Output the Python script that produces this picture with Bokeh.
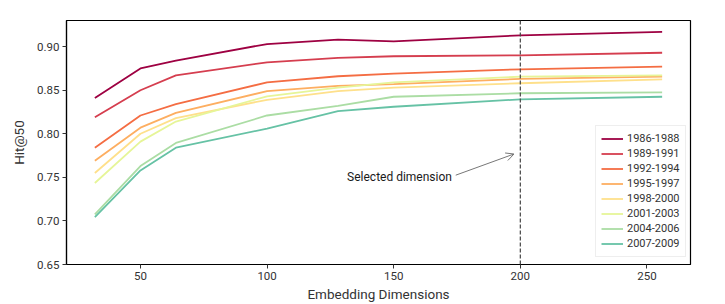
from bokeh.plotting import figure
from bokeh.models import Range1d, FixedTicker, PrintfTickFormatter, Legend, LegendItem, Span, Label, Arrow, OpenHead
from bokeh.embed import file_html
from bokeh.resources import INLINE

dims = [32, 50, 64, 100, 128, 150, 200, 256]
periods = ["1986-1988", "1989-1991", "1992-1994", "1995-1997",
           "1998-2000", "2001-2003", "2004-2006", "2007-2009"]
hit_1986 = [0.841, 0.875, 0.884, 0.903, 0.908, 0.906, 0.913, 0.917]
hit_1989 = [0.819, 0.850, 0.867, 0.882, 0.887, 0.889, 0.890, 0.893]
hit_1992 = [0.784, 0.821, 0.834, 0.859, 0.866, 0.869, 0.874, 0.877]
hit_1995 = [0.769, 0.807, 0.824, 0.849, 0.855, 0.857, 0.863, 0.8655]
hit_1998 = [0.755, 0.800, 0.818, 0.839, 0.849, 0.853, 0.858, 0.8625]
hit_2001 = [0.7435, 0.791, 0.814, 0.843, 0.853, 0.859, 0.8655, 0.867]
hit_2004 = [0.7075, 0.763, 0.7895, 0.821, 0.832, 0.8425, 0.8465, 0.8475]
hit_2007 = [0.7045, 0.758, 0.784, 0.806, 0.826, 0.831, 0.8395, 0.8425]
series = [hit_1986, hit_1989, hit_1992, hit_1995, hit_1998, hit_2001, hit_2004, hit_2007]
colors = ["#9e0142", "#d53e4f", "#f46d43", "#fdae61", "#fee08b", "#e6f598", "#abdda4", "#66c2a5"]

x_ticks = [50, 100, 150, 200, 250]
y_ticks = [0.65, 0.70, 0.75, 0.80, 0.85, 0.90]
selected_dim = 200
annot_text = "Selected dimension"
annot_text_xy = (173.0, 0.7505)
annot_arrow_start = (174.5, 0.7525)
annot_arrow_end = (197.5, 0.7768)

FONT = "Roboto"

p = figure(width=725, height=304, output_backend="svg", toolbar_location=None,
           x_range=Range1d(20.8, 267.2), y_range=Range1d(0.65, 0.93),
           min_border_left=66, min_border_right=35, min_border_top=20, min_border_bottom=40)
p.background_fill_color = "white"
p.border_fill_color = "white"
p.outline_line_color = "black"
p.outline_line_width = 1.2
p.xgrid.visible = False
p.ygrid.visible = False

for ax in (p.xaxis[0], p.yaxis[0]):
    ax.axis_line_color = "black"
    ax.axis_line_width = 1.2
    ax.major_tick_line_color = "#333333"
    ax.major_tick_out = 4
    ax.major_tick_in = 0
    ax.minor_tick_out = 0
    ax.minor_tick_in = 0
    ax.major_label_text_font = FONT
    ax.major_label_text_font_size = "11.5px"
    ax.major_label_text_color = "#333333"
    ax.axis_label_text_font = FONT
    ax.axis_label_text_font_size = "13.5px"
    ax.axis_label_text_font_style = "normal"
    ax.axis_label_text_color = "#333333"
    ax.major_label_standoff = 3

p.xaxis.ticker = FixedTicker(ticks=x_ticks)
p.yaxis.ticker = FixedTicker(ticks=y_ticks)
p.yaxis.formatter = PrintfTickFormatter(format="%.2f")
p.xaxis.axis_label = "Embedding Dimensions"
p.yaxis.axis_label = "Hit@50"
p.xaxis.axis_label_standoff = 3
p.yaxis.axis_label_standoff = 7

p.add_layout(Span(location=selected_dim, dimension="height", line_color="#444444",
                  line_dash="4 2", line_width=1.2))

items = []
for name, vals, c in zip(periods, series, colors):
    r = p.line(dims, vals, line_color=c, line_width=1.8)
    items.append(LegendItem(label=name, renderers=[r]))

p.add_layout(Arrow(end=OpenHead(size=8, line_color="#777777", line_width=1),
                   x_start=annot_arrow_start[0], y_start=annot_arrow_start[1],
                   x_end=annot_arrow_end[0], y_end=annot_arrow_end[1],
                   line_color="#777777", line_width=1))
p.add_layout(Label(x=annot_text_xy[0], y=annot_text_xy[1], text=annot_text,
                   text_align="right", text_baseline="middle",
                   text_font=FONT, text_font_size="12px", text_font_style="normal",
                   text_color="#1a1a1a"))

legend = Legend(items=items, location=(529, 7), orientation="vertical")
legend.label_text_font = FONT
legend.label_text_font_size = "11px"
legend.label_text_color = "#333333"
legend.glyph_width = 22
legend.glyph_height = 15
legend.label_height = 15
legend.label_standoff = 4
legend.spacing = 0
legend.padding = 5
legend.margin = 0
legend.border_line_color = "#dddddd"
legend.border_line_width = 1
legend.background_fill_color = "white"
legend.background_fill_alpha = 0.9
p.add_layout(legend, "center")

open("out.html", "w").write(file_html(p, INLINE))
